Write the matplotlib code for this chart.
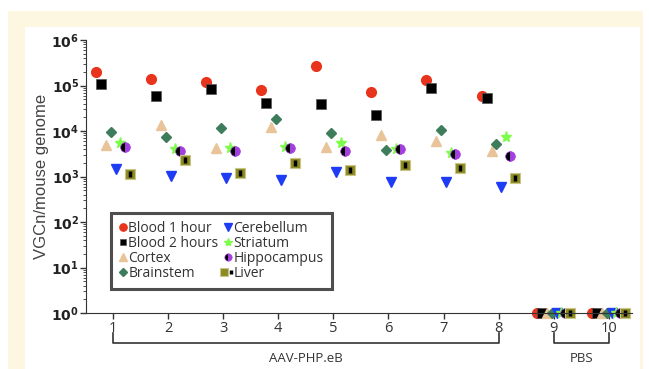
import numpy as np
import matplotlib
matplotlib.use('Agg')
import matplotlib.pyplot as plt
from matplotlib.patches import Rectangle
from matplotlib.legend_handler import HandlerTuple

# groups on the x axis (1-8 AAV-PHP.eB, 9-10 PBS)
groups = [1, 2, 3, 4, 5, 6, 7, 8, 9, 10]

blood_1h = [2.0e5, 1.4e5, 1.2e5, 8.0e4, 2.7e5, 7.3e4, 1.3e5, 5.8e4, 1, 1]
blood_2h = [1.07e5, 6.0e4, 8.3e4, 4.2e4, 3.9e4, 2.2e4, 8.9e4, 5.2e4, 1, 1]
cortex = [4.9e3, 1.35e4, 4.2e3, 1.24e4, 4.5e3, 8.1e3, 6.0e3, 3.7e3, 1, 1]
brainstem = [9.6e3, 7.4e3, 1.18e4, 1.8e4, 9.2e3, 3.8e3, 1.05e4, 5.1e3, 1, 1]
cerebellum = [1.45e3, 1.05e3, 9.4e2, 8.3e2, 1.27e3, 7.7e2, 7.7e2, 6.0e2, 1, 1]
striatum = [5.5e3, 4.0e3, 4.3e3, 4.5e3, 5.4e3, 4.0e3, 3.3e3, 7.5e3, 1, 1]
hippocampus = [4.5e3, 3.6e3, 3.7e3, 4.3e3, 3.7e3, 4.0e3, 3.2e3, 2.8e3, 1, 1]
liver = [1.13e3, 2.3e3, 1.17e3, 2.0e3, 1.39e3, 1.8e3, 1.56e3, 9.1e2, 1, 1]

fig = plt.figure(figsize=(6.49, 3.69), dpi=100)
fig.patch.set_facecolor('white')
W, H = 649.0, 369.0
# cream frame and white panel
fig.patches.append(Rectangle((8 / W, 0), 635 / W, (H - 11) / H, transform=fig.transFigure,
                             facecolor='#fdf6e0', edgecolor='none', zorder=-10))
fig.patches.append(Rectangle((25 / W, 0), 615 / W, (H - 27) / H, transform=fig.transFigure,
                             facecolor='white', edgecolor='none', zorder=-9))

ax = fig.add_axes([86 / W, 56 / H, 546 / W, 273 / H])
ax.patch.set_alpha(0)
ax.set_yscale('log')
ax.set_ylim(1, 1e6)
ax.set_xlim(0.51, 10.42)

x = np.array(groups, dtype=float)
offs = [-0.31, -0.22, -0.13, -0.04, 0.05, 0.13, 0.21, 0.30]
kw = dict(linestyle='none', clip_on=False)

h1, = ax.plot(x + offs[0], blood_1h, marker='o', ms=7, color='#e8341c', mec='#e8341c', **kw)
h2, = ax.plot(x + offs[1], blood_2h, marker='s', ms=6.5, color='black', mec='#555555', mew=0.5, **kw)
h3, = ax.plot(x + offs[2], cortex, marker='^', ms=7, color='#e9c49a', mec='#e9c49a', **kw)
h4, = ax.plot(x + offs[3], brainstem, marker='D', ms=5.5, color='#3e7d5c', mec='#3e7d5c', **kw)
h5, = ax.plot(x + offs[4], cerebellum, marker='v', ms=7, color='#1f3cf5', mec='#1f3cf5', **kw)
h6, = ax.plot(x + offs[5], striatum, marker='*', ms=8, color='#7dfc4a', mec='#7dfc4a', **kw)
h7, = ax.plot(x + offs[6], hippocampus, marker='o', ms=7, fillstyle='left', color='black',
              markerfacecoloralt='#a43ee0', mec='#a43ee0', mew=0.5, **kw)
h8a, = ax.plot(x + offs[7], liver, marker='s', ms=7, color='#8c8a22', mec='#c9c68a', mew=0.8, **kw)
h8b, = ax.plot(x + offs[7], liver, marker='|', ms=4.5, mew=2.5, color='black', **kw)

for s in ['top', 'right']:
    ax.spines[s].set_visible(False)
ax.spines['left'].set_color('#333333')
ax.spines['bottom'].set_color('#333333')

ax.set_yticks([1, 10, 100, 1e3, 1e4, 1e5, 1e6])
ax.set_yticklabels([r'$\mathbf{10^{%d}}$' % i for i in range(7)], fontsize=10, color='#222222')
ax.tick_params(axis='y', which='major', length=4, width=1, color='#333333', pad=1)
ax.tick_params(axis='y', which='minor', length=2, width=0.6, color='#333333')
ax.set_xticks(groups)
ax.set_xticklabels([str(g) for g in groups], fontsize=10.5, color='#333333', family='Open Sans')
ax.tick_params(axis='x', length=4, width=1, color='#333333', pad=2)
ax.set_ylabel('VGCn/mouse genome', fontsize=12, color='#444444', family='Liberation Sans', labelpad=2)

# brackets under the x axis
tr = ax.get_xaxis_transform()
for a, b, lab in [(1, 8, 'AAV-PHP.eB'), (9, 10, 'PBS')]:
    ax.plot([a, a, b, b], [-0.075, -0.11, -0.11, -0.075], color='#333333', lw=1.2,
            transform=tr, clip_on=False)
    ax.text((a + b) / 2, -0.165, lab, transform=tr, ha='center', va='center',
            fontsize=9.5, color='#333333', family='Open Sans')

leg = ax.legend([h1, h2, h3, h4, h5, h6, h7, (h8a, h8b)],
                ['Blood 1 hour', 'Blood 2 hours', 'Cortex', 'Brainstem',
                 'Cerebellum', 'Striatum', 'Hippocampus', 'Liver'],
                handler_map={tuple: HandlerTuple(ndivide=None)},
                ncol=2, loc='upper left', bbox_to_anchor=(0.046, 0.368),
                frameon=True, fancybox=False,
                handlelength=0.5, handletextpad=0.15, columnspacing=0.4,
                labelspacing=0.0, borderpad=0.6, borderaxespad=0, markerscale=0.75,
                prop={'family': 'Open Sans', 'size': 10})
leg.get_frame().set_edgecolor('#222222')
leg.get_frame().set_linewidth(2.2)
for t in leg.get_texts():
    t.set_color('#333333')

fig.savefig('out.png', dpi=100)
